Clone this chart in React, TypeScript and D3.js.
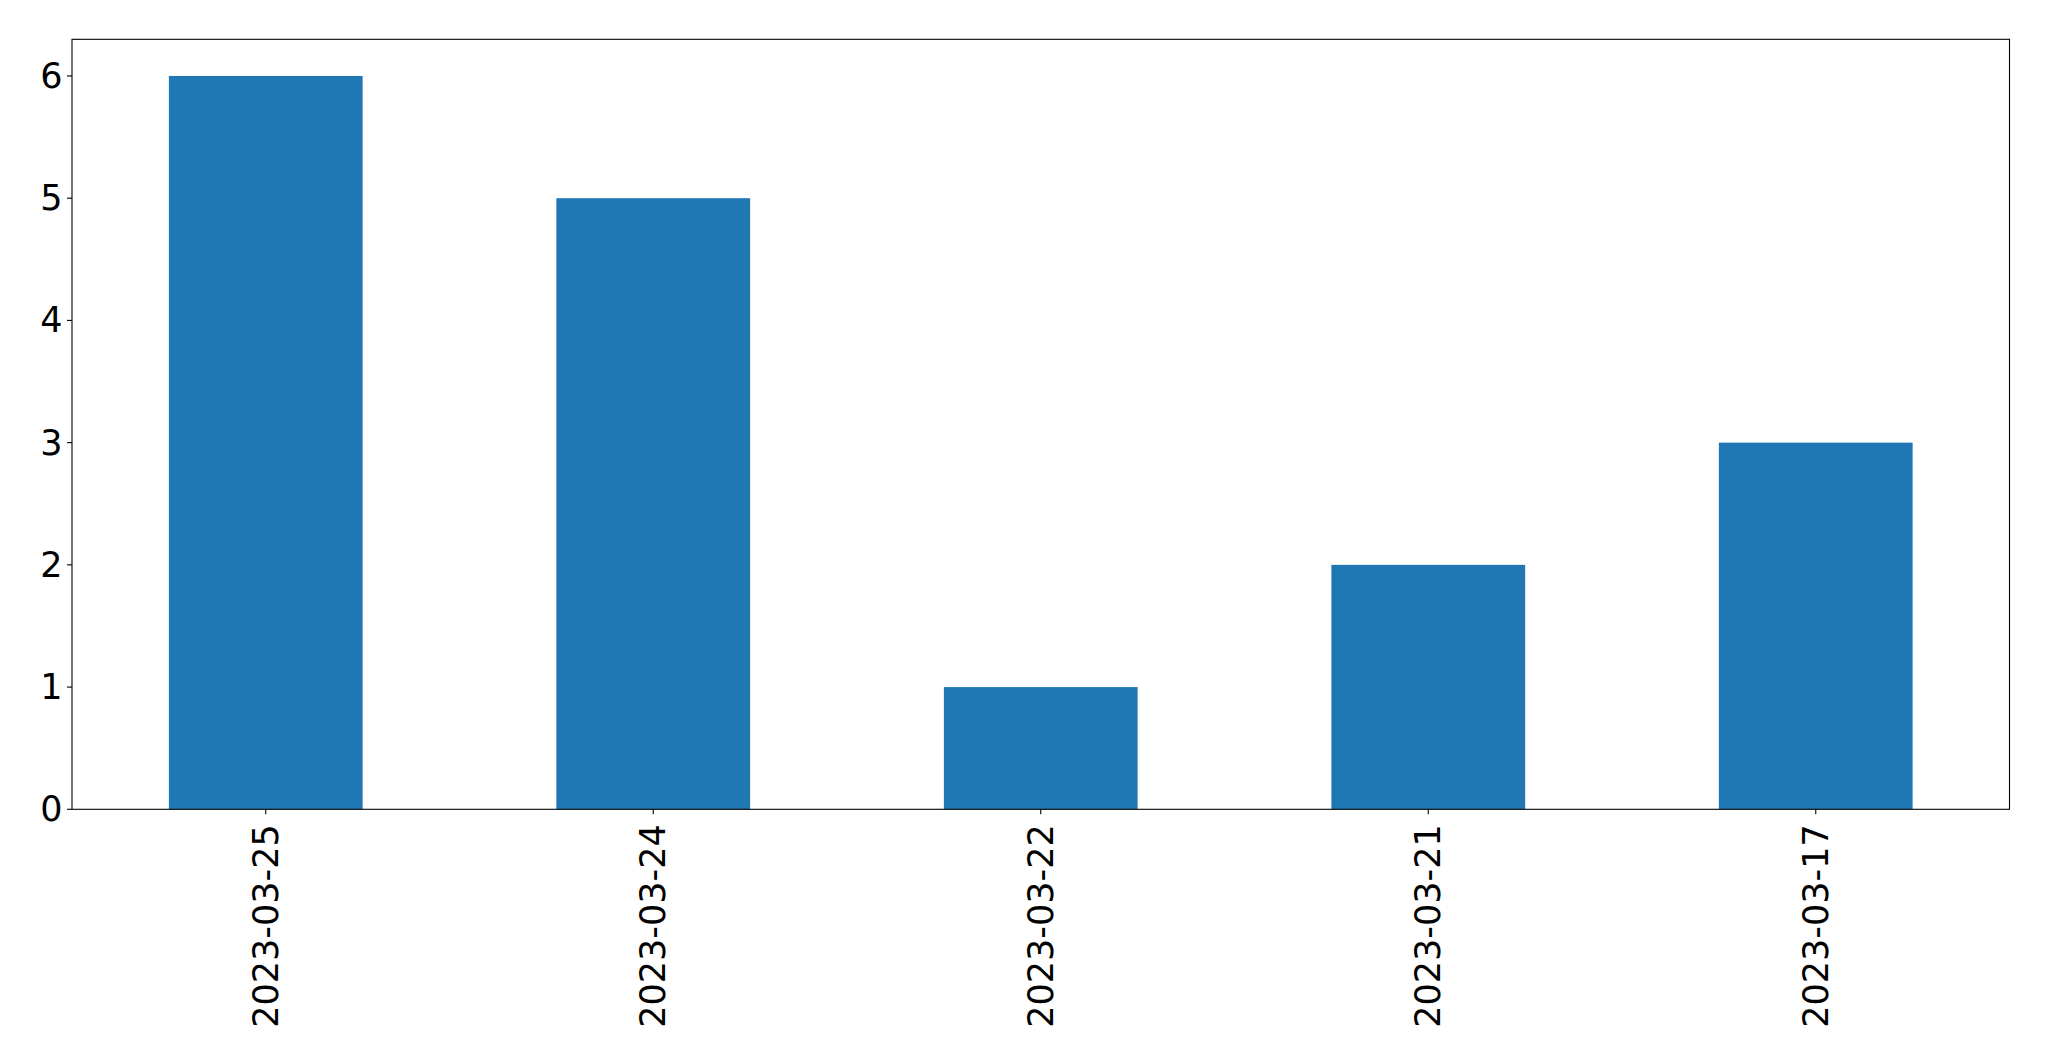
import React from "react";
import * as d3 from "d3";

const categories = ["2023-03-25", "2023-03-24", "2023-03-22", "2023-03-21", "2023-03-17"];
const values = [6, 5, 1, 2, 3];
const yTicks = [0, 1, 2, 3, 4, 5, 6];

const W = 2049;
const H = 1061;
const left = 72;
const right = 2009.5;
const top = 39.3;
const bottom = 809.3;
const font = "DejaVu Sans";
const fontSize = 35;

export default function App() {
  const x = d3.scaleLinear().domain([-0.5, categories.length - 0.5]).range([left, right]);
  const y = d3.scaleLinear().domain([0, 6.3]).range([bottom, top]);
  const bw = x(0.25) - x(-0.25);
  return (
    <svg width={W} height={H} style={{ position: "absolute", left: 0, top: 0 }}>
      <rect x={0} y={0} width={W} height={H} fill="white" />
      {values.map((v, i) => (
        <rect key={i} x={x(i) - bw / 2} y={y(v)} width={bw} height={y(0) - y(v)} fill="#1f77b4" />
      ))}
      <rect x={left} y={top} width={right - left} height={bottom - top} fill="none" stroke="black" strokeWidth={1.1} />
      {yTicks.map((t) => (
        <g key={t}>
          <line x1={left - 5} x2={left} y1={y(t)} y2={y(t)} stroke="black" strokeWidth={1.1} />
          <text x={left - 9.5} y={y(t)} textAnchor="end" dominantBaseline="central" fontFamily={font} fontSize={fontSize} fill="black">
            {t}
          </text>
        </g>
      ))}
      {categories.map((c, i) => (
        <g key={c}>
          <line x1={x(i)} x2={x(i)} y1={bottom} y2={bottom + 5} stroke="black" strokeWidth={1.1} />
          <text
            transform={`translate(${x(i)},${bottom + 15}) rotate(-90)`}
            textAnchor="end"
            dominantBaseline="central"
            fontFamily={font}
            fontSize={fontSize}
            fill="black"
          >
            {c}
          </text>
        </g>
      ))}
    </svg>
  );
}
